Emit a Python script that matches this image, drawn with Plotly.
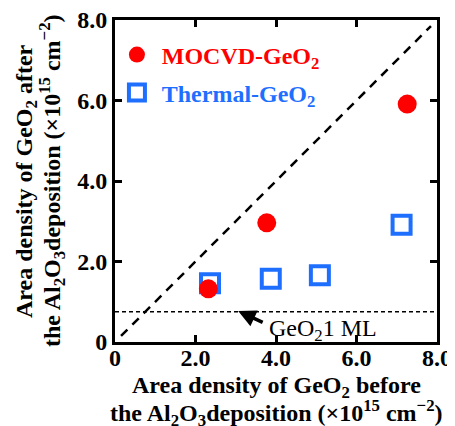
import plotly.graph_objects as go

# ---- data ----
mocvd_before = [2.32, 3.77, 7.26]
mocvd_after = [1.32, 2.96, 5.91]
thermal_before = [2.36, 3.87, 5.09, 7.12]
thermal_after = [1.46, 1.57, 1.66, 2.91]
guide_xy = [0.15, 7.85]          # y = x reference line
ml_level = 0.75                  # GeO2 1 ML level
arrow_head = (3.06, 0.77)
label_pos = (3.78, 0.31)
tick_vals = [0, 2, 4, 6, 8]
tick_text = ["0", "2.0", "4.0", "6.0", "8.0"]

FONT = "Liberation Serif, Times New Roman, serif"
RED = "#FF0000"
BLUE = "#1F6FFF"

fig = go.Figure()

fig.add_trace(go.Scatter(
    x=guide_xy, y=guide_xy, mode="lines",
    line=dict(color="black", width=2.5, dash="9px,7px"),
    showlegend=False, hoverinfo="skip"))

fig.add_trace(go.Scatter(
    x=[0, 8], y=[ml_level, ml_level], mode="lines",
    line=dict(color="black", width=1.5, dash="4px,3px"),
    showlegend=False, hoverinfo="skip"))

fig.add_trace(go.Scatter(
    x=thermal_before, y=thermal_after, mode="markers",
    name="\u2009Thermal-GeO<sub>2</sub>",
    marker=dict(symbol="square-open", size=18, color=BLUE,
                line=dict(width=4, color=BLUE)),
    legend="legend2"))

fig.add_trace(go.Scatter(
    x=mocvd_before, y=mocvd_after, mode="markers",
    name="\u2009MOCVD-GeO<sub>2</sub>",
    marker=dict(symbol="circle", size=19, color=RED),
    legend="legend"))

axis_common = dict(
    range=[0, 8], tickvals=tick_vals, ticktext=tick_text,
    showgrid=False, zeroline=False, automargin=False,
    showline=True, linecolor="black", linewidth=3, mirror="ticks",
    ticks="inside", ticklen=7, tickwidth=3, tickcolor="black",
    tickfont=dict(family=FONT, size=24, color="black", weight="bold"),
    ticklabeloverflow="allow",
    fixedrange=True,
)

# page has an 8px body margin: figure is shifted by 8px, so compensate
fig.update_layout(
    width=447, height=418,
    margin=dict(l=107, r=18, t=12, b=84, autoexpand=False),
    paper_bgcolor="white", plot_bgcolor="white",
    font=dict(family=FONT, color="black"),
    xaxis=dict(axis_common, ticklabelstandoff=-8),
    yaxis=axis_common,
    legend=dict(x=0.006, y=(342 - 55) / 322, xanchor="left", yanchor="middle",
                bgcolor="rgba(0,0,0,0)", borderwidth=0,
                font=dict(family=FONT, size=24, color=RED, weight="bold")),
    legend2=dict(x=0.006, y=(342 - 93) / 322, xanchor="left", yanchor="middle",
                 bgcolor="rgba(0,0,0,0)", borderwidth=0,
                 font=dict(family=FONT, size=24, color=BLUE, weight="bold")),
)

bold = dict(family=FONT, size=24, color="black", weight="bold")

# x-axis title (two lines)
fig.add_annotation(xref="paper", yref="paper", x=0.5, y=0, yshift=-45,
                   xanchor="center", yanchor="middle", showarrow=False,
                   text="Area density of GeO<sub>2</sub> before", font=bold)
fig.add_annotation(xref="paper", yref="paper", x=0.5, y=0, yshift=-71,
                   xanchor="center", yanchor="middle", showarrow=False,
                   text="the Al<sub>2</sub>O<sub>3</sub>deposition (×10<sup>15</sup> cm<sup>−2</sup>)",
                   font=bold)
# y-axis title (two lines)
fig.add_annotation(xref="paper", yref="paper", x=0, y=0.5, xshift=-89,
                   xanchor="center", yanchor="middle", showarrow=False, textangle=-90,
                   text="Area density of GeO<sub>2</sub> after", font=bold)
fig.add_annotation(xref="paper", yref="paper", x=0, y=0.5, xshift=-63,
                   xanchor="center", yanchor="middle", showarrow=False, textangle=-90,
                   text="the Al<sub>2</sub>O<sub>3</sub>deposition (×10<sup>15</sup> cm<sup>−2</sup>)",
                   font=bold)

# arrow + label for 1 ML
fig.add_annotation(x=arrow_head[0], y=arrow_head[1], xref="x", yref="y",
                   text="", showarrow=True, ax=26, ay=12,
                   arrowhead=2, arrowsize=1, arrowwidth=3.5, arrowcolor="black")
fig.add_annotation(x=label_pos[0], y=label_pos[1], xref="x", yref="y",
                   xanchor="left", yanchor="middle", showarrow=False,
                   text="GeO<sub>2</sub>1 ML",
                   font=dict(family=FONT, size=24, color="black"))

fig.write_html("out.html")
